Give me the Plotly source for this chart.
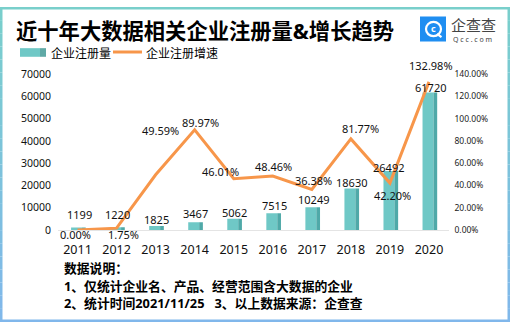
import plotly.graph_objects as go

# ---------------- data ----------------
years = ['2011', '2012', '2013', '2014', '2015', '2016', '2017', '2018', '2019', '2020']
registrations = [1199, 1220, 1825, 3467, 5062, 7515, 10249, 18630, 26492, 61720]
growth_pct = [0.00, 1.75, 49.59, 89.97, 46.01, 48.46, 36.38, 81.77, 42.20, 132.98]
left_ticks = [0, 10000, 20000, 30000, 40000, 50000, 60000, 70000]
right_ticks_pct = [0, 20, 40, 60, 80, 100, 120, 140]

title_text = '近十年大数据相关企业注册量&增长趋势'
legend_names = ['企业注册量', '企业注册增速']
notes = ['数据说明：',
         '1、仅统计企业名、产品、经营范围含大数据的企业',
         '2、统计时间2021/11/25   3、以上数据来源：企查查']

# ---------------- style ----------------
W, H = 510, 329
NUM = 'Noto Sans, Noto Sans CJK SC'
CJK = 'Noto Sans CJK SC'
TEAL = '#6fc8c6'
TEAL_SIDE = '#4fa9a8'
ORANGE = '#f7964a'
bar_label_shift = [(2, 13), (1, 13), (1, 7), (1, 9), (1, 6), (2, 8), (2, 8), (1, 6), (-1, 4), (2, 5)]
line_label_shift = [(-2, -4), (7, -6), (5, 44), (6, 7), (-13, 7), (1, 10), (2, 9), (10, 10), (3, -12), (2, 16)]


def X(px):
    return px / W


def Y(py):
    return 1 - py / H


growth = [g / 100 for g in growth_pct]

fig = go.Figure()
# front face of bars
fig.add_trace(go.Bar(x=years, y=registrations, width=0.28, offset=-0.165,
                     marker=dict(color=TEAL, line=dict(width=0)), hoverinfo='skip',
                     showlegend=False))
# side face of bars (3D look)
fig.add_trace(go.Bar(x=years, y=registrations, width=0.095, offset=0.115,
                     marker=dict(color=TEAL_SIDE, line=dict(width=0)), hoverinfo='skip',
                     showlegend=False))
fig.add_trace(go.Scatter(x=years, y=growth, mode='lines', yaxis='y2',
                         line=dict(color=ORANGE, width=3), showlegend=False))

ann = []
# category axis: annotations positioned by category index
for i, v in enumerate(registrations):
    dx, dy = bar_label_shift[i]
    ann.append(dict(x=i, y=v, xref='x', yref='y', text=str(v), showarrow=False,
                    xshift=dx, yshift=dy, font=dict(family=NUM, size=11, color='#111')))
for i, (g, gp) in enumerate(zip(growth, growth_pct)):
    dx, dy = line_label_shift[i]
    ann.append(dict(x=i, y=g, xref='x', yref='y2', text=f'{gp:.2f}%', showarrow=False,
                    xshift=dx, yshift=dy, font=dict(family=NUM, size=11, color='#111')))

# title
ann.append(dict(x=X(14), y=Y(25), xref='paper', yref='paper', xanchor='left', yanchor='middle',
                text='<b>' + title_text + '</b>', showarrow=False,
                font=dict(family=NUM, size=21.3, color='#000')))
# legend texts
ann.append(dict(x=X(49), y=Y(48), xref='paper', yref='paper', xanchor='left', yanchor='middle',
                text=legend_names[0], showarrow=False, font=dict(family=CJK, size=12, color='#000')))
ann.append(dict(x=X(144), y=Y(48), xref='paper', yref='paper', xanchor='left', yanchor='middle',
                text=legend_names[1], showarrow=False, font=dict(family=CJK, size=12, color='#000')))
# logo texts
ann.append(dict(x=X(449), y=Y(18), xref='paper', yref='paper', xanchor='left', yanchor='middle',
                text='企查查', showarrow=False, font=dict(family=CJK, size=15, color='#444')))
ann.append(dict(x=X(451), y=Y(34), xref='paper', yref='paper', xanchor='left', yanchor='middle',
                text='Q c c . c o m', showarrow=False, font=dict(family=NUM, size=7, color='#444')))
ann.append(dict(x=X(433.5), y=Y(22.5), xref='paper', yref='paper', xanchor='center', yanchor='middle',
                text='<b>c</b>', showarrow=False, font=dict(family=NUM, size=9, color='#fff')))
# notes
for t, py in zip(notes, [273, 291, 309]):
    ann.append(dict(x=X(62), y=Y(py), xref='paper', yref='paper', xanchor='left', yanchor='middle',
                    text='<b>' + t + '</b>', showarrow=False,
                    font=dict(family=NUM, size=12.8, color='#000')))

shapes = []
# legend symbols
shapes.append(dict(type='rect', xref='paper', yref='paper', x0=X(20), x1=X(40), y0=Y(52), y1=Y(43),
                   fillcolor=TEAL, line=dict(width=0)))
shapes.append(dict(type='rect', xref='paper', yref='paper', x0=X(40), x1=X(46), y0=Y(52), y1=Y(43),
                   fillcolor='#5fa9a6', line=dict(width=0)))
shapes.append(dict(type='line', xref='paper', yref='paper', x0=X(113), x1=X(142), y0=Y(47), y1=Y(47),
                   line=dict(color=ORANGE, width=3)))
# logo icon
shapes.append(dict(type='rect', xref='paper', yref='paper', x0=X(421), x1=X(445), y0=Y(35), y1=Y(11),
                   fillcolor='#1f8ef1', line=dict(color='#1f8ef1', width=2)))
shapes.append(dict(type='circle', xref='paper', yref='paper', x0=X(426), x1=X(441), y0=Y(30.5), y1=Y(15.5),
                   line=dict(color='#fff', width=2.2)))
shapes.append(dict(type='line', xref='paper', yref='paper', x0=X(437), x1=X(441.5), y0=Y(28), y1=Y(31.5),
                   line=dict(color='#fff', width=2.2)))


# border with vertical gradient teal -> blue
def mix(t):
    c0 = (0x79, 0xcf, 0xcb)
    c1 = (0x80, 0xb7, 0xeb)
    return 'rgb(%d,%d,%d)' % tuple(round(a + (b - a) * t) for a, b in zip(c0, c1))


N = 24
for k in range(N):
    y0 = k * H / N
    y1 = (k + 1) * H / N
    col = mix((k + 0.5) / N)
    for xa, xb in [(0, 2.5), (W - 2.5, W)]:
        shapes.append(dict(type='rect', xref='paper', yref='paper', x0=X(xa), x1=X(xb),
                           y0=Y(y1), y1=Y(y0), fillcolor=col, line=dict(width=0), layer='above'))
shapes.append(dict(type='rect', xref='paper', yref='paper', x0=0, x1=1, y0=Y(2.5), y1=1,
                   fillcolor=mix(0), line=dict(width=0), layer='above'))
shapes.append(dict(type='rect', xref='paper', yref='paper', x0=0, x1=1, y0=0, y1=Y(H - 2.5),
                   fillcolor=mix(1), line=dict(width=0), layer='above'))

fig.update_layout(
    width=W, height=H, autosize=False,
    margin=dict(l=0, r=0, t=0, b=0),
    paper_bgcolor='white', plot_bgcolor='white',
    barmode='overlay', showlegend=False,
    xaxis=dict(type='category', domain=[X(58), X(448.5)], range=[-0.5, 9.5],
               showgrid=False, zeroline=False, showline=True, linecolor='#e4e4e4', linewidth=1,
               ticks='', ticklabelstandoff=8,
               tickfont=dict(family=NUM, size=12.5, color='#111')),
    yaxis=dict(domain=[Y(233), Y(70)], range=[0, 70000], tickvals=left_ticks,
               tickformat='d', showgrid=False, zeroline=False, showline=False, ticks='',
               ticklabelstandoff=6, tickfont=dict(family=NUM, size=10.5, color='#111')),
    yaxis2=dict(domain=[Y(233), Y(70)], range=[0, 1.4], overlaying='y', side='right',
                tickvals=[p / 100 for p in right_ticks_pct], tickformat='.2%',
                showgrid=False, zeroline=False, showline=False, ticks='',
                ticklabelstandoff=5, tickfont=dict(family=NUM, size=8.5, color='#222')),
    annotations=ann, shapes=shapes,
)

fig.write_html('out.html')
